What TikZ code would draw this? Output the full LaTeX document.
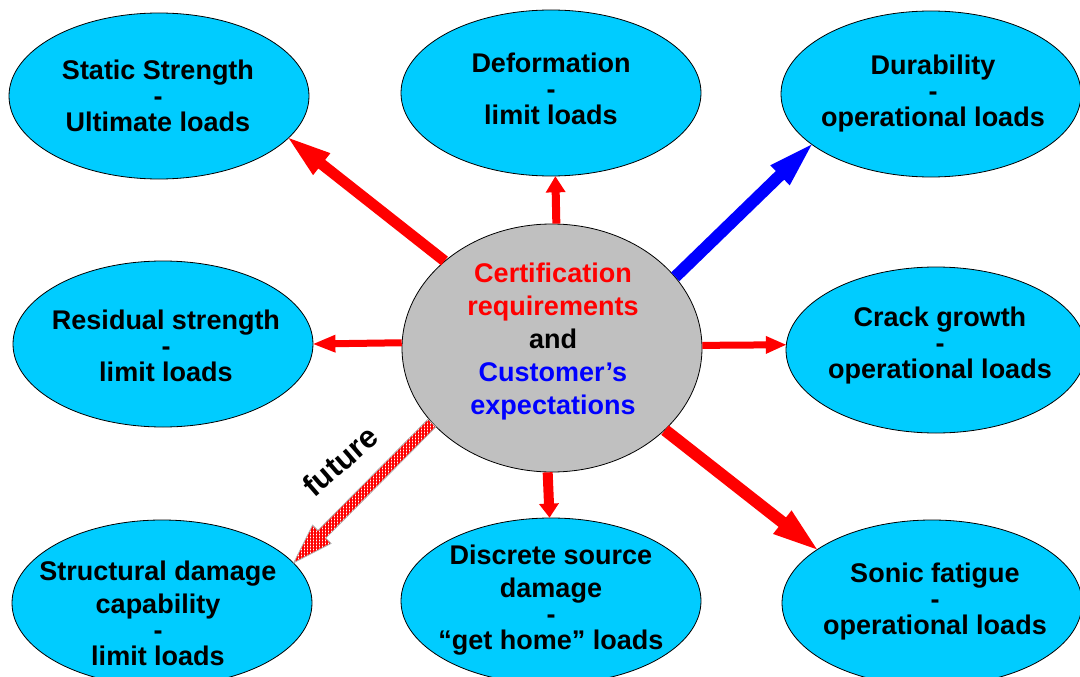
\documentclass[tikz,border=0pt]{standalone}
\usepackage{fontspec}
\setmainfont{Liberation Sans}
\usetikzlibrary{shapes.geometric,calc,patterns.meta}
\definecolor{skyfill}{RGB}{0,204,255}
\definecolor{hubfill}{RGB}{192,192,192}
% block arrow: #1 style, #2 start, #3 tip, #4 half shaft, #5 half head, #6 head length
\newcommand\fatarrow[6]{%
  \coordinate (fa-neck) at ($(#3)!#6!(#2)$);
  \path[#1] ($(#2)!#4!90:(#3)$) -- ($(fa-neck)!#4!-90:(#2)$) -- ($(fa-neck)!#5!-90:(#2)$) -- (#3)
    -- ($(fa-neck)!#5!90:(#2)$) -- ($(fa-neck)!#4!90:(#2)$) -- ($(#2)!#4!-90:(#3)$) -- cycle;}
\begin{document}
\begin{tikzpicture}[x=1pt,y=1pt,
  goal/.style={ellipse, draw=black, line width=0.8pt, fill=skyfill, inner sep=0pt,
    minimum width=300pt, minimum height=166pt},
  hub/.style={ellipse, draw=black, line width=0.8pt, fill=hubfill, inner sep=0pt,
    minimum width=300pt, minimum height=248pt},
  txt/.style={anchor=north, inner sep=0pt, align=center,
    font=\fontsize{27}{33}\selectfont\bfseries},
  solidred/.style={fill=red},
  solidblue/.style={fill=blue},
  hatched/.style={draw=black!30, line width=0.8pt,
    pattern={Hatch[distance=3pt,line width=1.4pt,angle=0]}, pattern color=red}
]
\useasboundingbox (0,0) rectangle (1080,-677);
\clip (0,0) rectangle (1080,-677);

% outer goals
\node[goal] (s1) at (159,-96) {};
\node[goal] (dm) at (551,-93) {};
\node[goal] (du) at (931,-94) {};
\node[goal] (rs) at (163,-344) {};
\node[goal] (cg) at (936,-350) {};
\node[goal] (sd) at (162,-603) {};
\node[goal] (ds) at (551,-601) {};
\node[goal] (sf) at (932,-603) {};

% central requirements
\node[hub] (hub) at (552,-348) {};

% labels of the goals
\node[txt] (t-s1) at (158,-60) {Static Strength\\[-7pt]-\\[-7pt]Ultimate loads};
\node[txt] (t-dm) at (551,-53) {Deformation\\[-7pt]-\\[-7pt]limit loads};
\node[txt] (t-du) at (933,-55) {Durability\\[-7pt]-\\[-7pt]operational loads};
\node[txt] (t-rs) at (166,-310) {Residual strength\\[-7pt]-\\[-7pt]limit loads};
\node[txt] (t-cg) at (940,-307) {Crack growth\\[-7pt]-\\[-7pt]operational loads};
\node[txt] (t-sd) at (158,-561) {Structural damage\\capability\\[-7pt]-\\[-7pt]limit loads};
\node[txt] (t-ds) at (551,-545) {Discrete source\\damage\\[-7pt]-\\[-7pt]“get home” loads};
\node[txt] (t-sf) at (935,-563) {Sonic fatigue\\[-7pt]-\\[-7pt]operational loads};
\node[txt] (t-hub) at (553,-263) {\textcolor{red}{Certification}\\\textcolor{red}{requirements}\\
  and\\\textcolor{blue}{Customer’s}\\\textcolor{blue}{expectations}};

% arrows from the centre
\fatarrow{solidred}{hub.141.5}{s1.342}{5.5pt}{14pt}{42pt}
\fatarrow{solidred}{hub.88}{dm.273}{4pt}{10pt}{16pt}
\fatarrow{solidblue}{hub.30.7}{du.203.6}{6pt}{14pt}{44pt}
\fatarrow{solidred}{hub.178}{rs.0}{3.5pt}{9pt}{22pt}
\fatarrow{solidred}{hub.1}{cg.178}{3.5pt}{9pt}{20pt}
\fatarrow{solidred}{hub.268.6}{ds.91}{5pt}{10pt}{14pt}
\fatarrow{solidred}{hub.324.5}{sf.155.3}{6pt}{15pt}{44pt}
\fatarrow{hatched}{hub.212.7}{sd.17.5}{5.5pt}{13pt}{40pt}

\node[font=\fontsize{31}{34}\selectfont\bfseries, rotate=41, inner sep=0pt] (fut) at (340,-461) {future};
\end{tikzpicture}
\end{document}
